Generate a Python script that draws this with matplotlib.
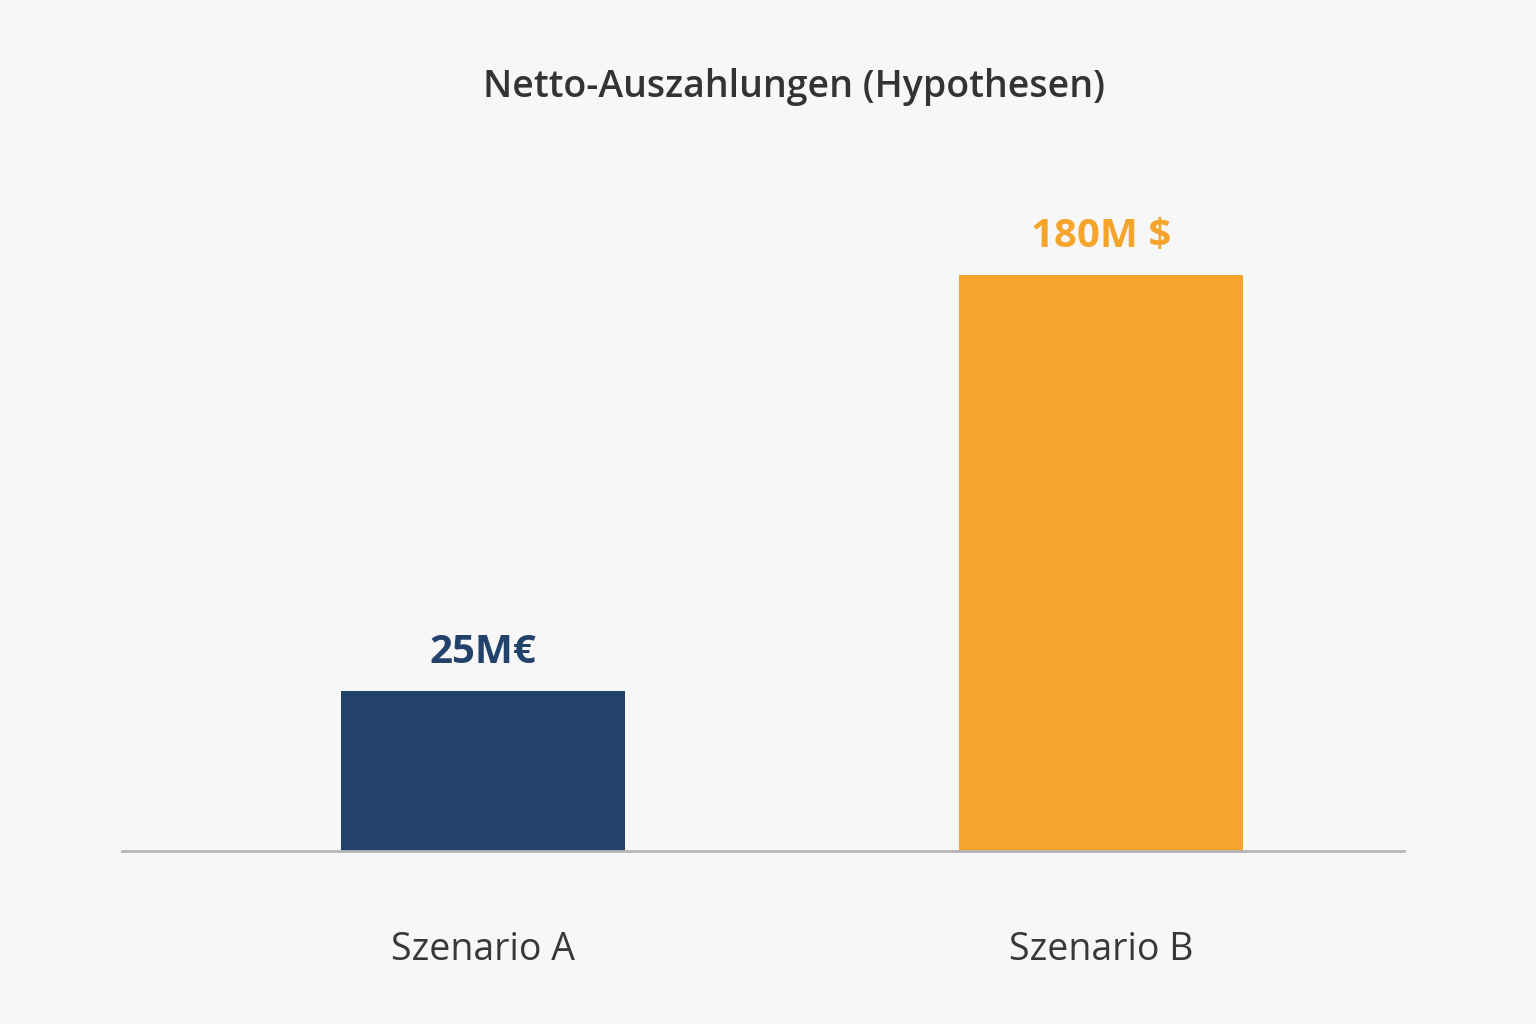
import matplotlib.pyplot as plt

plt.rcParams['font.family'] = ['Open Sans', 'DejaVu Sans']

scenarios = ["Szenario A", "Szenario B"]
value_labels = ["25M€", "180M $"]
# bar heights as drawn in the picture (not proportional to the labels)
bar_heights = [50, 180]
colors = ["#22416b", "#f5a52c"]

fig = plt.figure(figsize=(15.36, 10.24), dpi=100, facecolor="#f7f7f7")
ax = fig.add_axes([0.0794, 0.169, 0.8346, 0.685])
ax.set_facecolor("#f7f7f7")

x = [0, 1]
ax.bar(x, bar_heights, width=0.46, color=colors)
ax.set_xlim(-0.584, 1.49)
ax.set_ylim(0, 219.4)

for xi, h, lab, c in zip(x, bar_heights, value_labels, colors):
    ax.text(xi, h + 6, lab, ha="center", va="bottom", fontsize=29,
            fontweight="bold", color=c)

for s in ["top", "right", "left"]:
    ax.spines[s].set_visible(False)
ax.spines["bottom"].set_color("#b5b5b5")
ax.spines["bottom"].set_linewidth(2)
ax.set_yticks([])
ax.set_xticks(x)
ax.set_xticklabels(scenarios, fontsize=27, color="#383838")
ax.tick_params(axis="x", length=0, pad=58)

fig.text(0.517, 0.915, "Netto-Auszahlungen (Hypothesen)", ha="center", va="center",
         fontsize=27, fontweight="semibold", color="#333333")

fig.savefig("out.png", dpi=100, facecolor=fig.get_facecolor())
